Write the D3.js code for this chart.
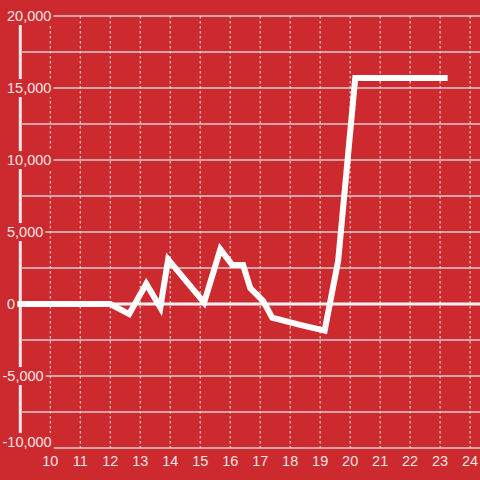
<!DOCTYPE html>
<html>
<head>
<meta charset="utf-8">
<script src="https://cdn.jsdelivr.net/npm/d3@7"></script>
<style>
  html, body { margin: 0; padding: 0; background: #cc2a2f; }
  svg { display: block; font-family: "Liberation Sans", Arial, sans-serif; }
</style>
</head>
<body>
<svg id="chart" width="480" height="480"></svg>
<script>
// data
const xs = [8.9, 12.0, 12.63, 13.2, 13.67, 13.93, 15.13, 15.67, 16.07, 16.43, 16.67, 17.1, 17.4, 18.33, 19.15, 19.6, 20.17, 23.25];
const ys = [0, 0, -700, 1400, -250, 3100, 100, 3800, 2700, 2700, 1100, 200, -950, -1450, -1850, 3000, 15700, 15700];
const yTicks = [20000, 15000, 10000, 5000, 0, -5000, -10000];
const xTicks = [10, 11, 12, 13, 14, 15, 16, 17, 18, 19, 20, 21, 22, 23, 24];

const W = 480, H = 480;
const svg = d3.select("#chart");

const x = d3.scaleLinear().domain([9, 24.33]).range([20.3, 480]);
const y = d3.scaleLinear().domain([-10000, 20000]).range([448, 16]);

svg.append("rect").attr("width", W).attr("height", H).attr("fill", "#cc2a2f");

// horizontal grid every 2500
const gridY = d3.range(-10000, 20001, 2500);
svg.append("g").selectAll("line").data(gridY).join("line")
  .attr("x1", 22).attr("x2", W)
  .attr("y1", d => y(d)).attr("y2", d => y(d))
  .attr("stroke", "#d4cccc")
  .attr("stroke-width", 1.5);

// vertical dashed grid
svg.append("g").selectAll("line").data(xTicks).join("line")
  .attr("x1", d => x(d)).attr("x2", d => x(d))
  .attr("y1", y(20000)).attr("y2", y(-10000))
  .attr("stroke", "#ece4e4")
  .attr("stroke-width", 1)
  .attr("stroke-dasharray", "2.5,2.5");

// zero line
svg.append("line")
  .attr("x1", 22).attr("x2", W)
  .attr("y1", y(0)).attr("y2", y(0))
  .attr("stroke", "#f8f4f4")
  .attr("stroke-width", 3);

// y axis line
svg.append("line")
  .attr("x1", x(9)).attr("x2", x(9))
  .attr("y1", y(20000)).attr("y2", y(-10000))
  .attr("stroke", "#f0e8e8")
  .attr("stroke-width", 3);

// y labels with a background box
const fmt = d3.format(",");
const yLab = svg.append("g").selectAll("g").data(yTicks).join("g")
  .attr("transform", d => `translate(0,${Math.min(y(d), 442)})`);

yLab.append("rect").attr("fill", "#cc2a2f");
yLab.append("text")
  .attr("x", d => d < 0 ? 2.5 : 7)
  .attr("dy", "0.35em")
  .attr("font-size", 14.5)
  .attr("fill", "#f6e4e4")
  .text(d => fmt(d).replace("−", "-"));

yLab.each(function() {
  const g = d3.select(this);
  const b = g.select("text").node().getBBox();
  g.select("rect")
    .attr("x", b.x - 2).attr("y", b.y - 1)
    .attr("width", b.width + 4).attr("height", b.height + 2);
});

// x labels
svg.append("g").selectAll("text").data(xTicks).join("text")
  .attr("x", d => x(d))
  .attr("y", 461)
  .attr("dy", "0.35em")
  .attr("text-anchor", "middle")
  .attr("font-size", 14.5)
  .attr("fill", "#f6e4e4")
  .text(d => d);

// data line
const pts = xs.map((v, i) => [v, ys[i]]);
svg.append("path")
  .datum(pts)
  .attr("d", d3.line().x(d => x(d[0])).y(d => y(d[1])))
  .attr("fill", "none")
  .attr("stroke", "#ffffff")
  .attr("stroke-width", 6)
  .attr("stroke-linejoin", "miter")
  .attr("stroke-linecap", "butt");
</script>
</body>
</html>
